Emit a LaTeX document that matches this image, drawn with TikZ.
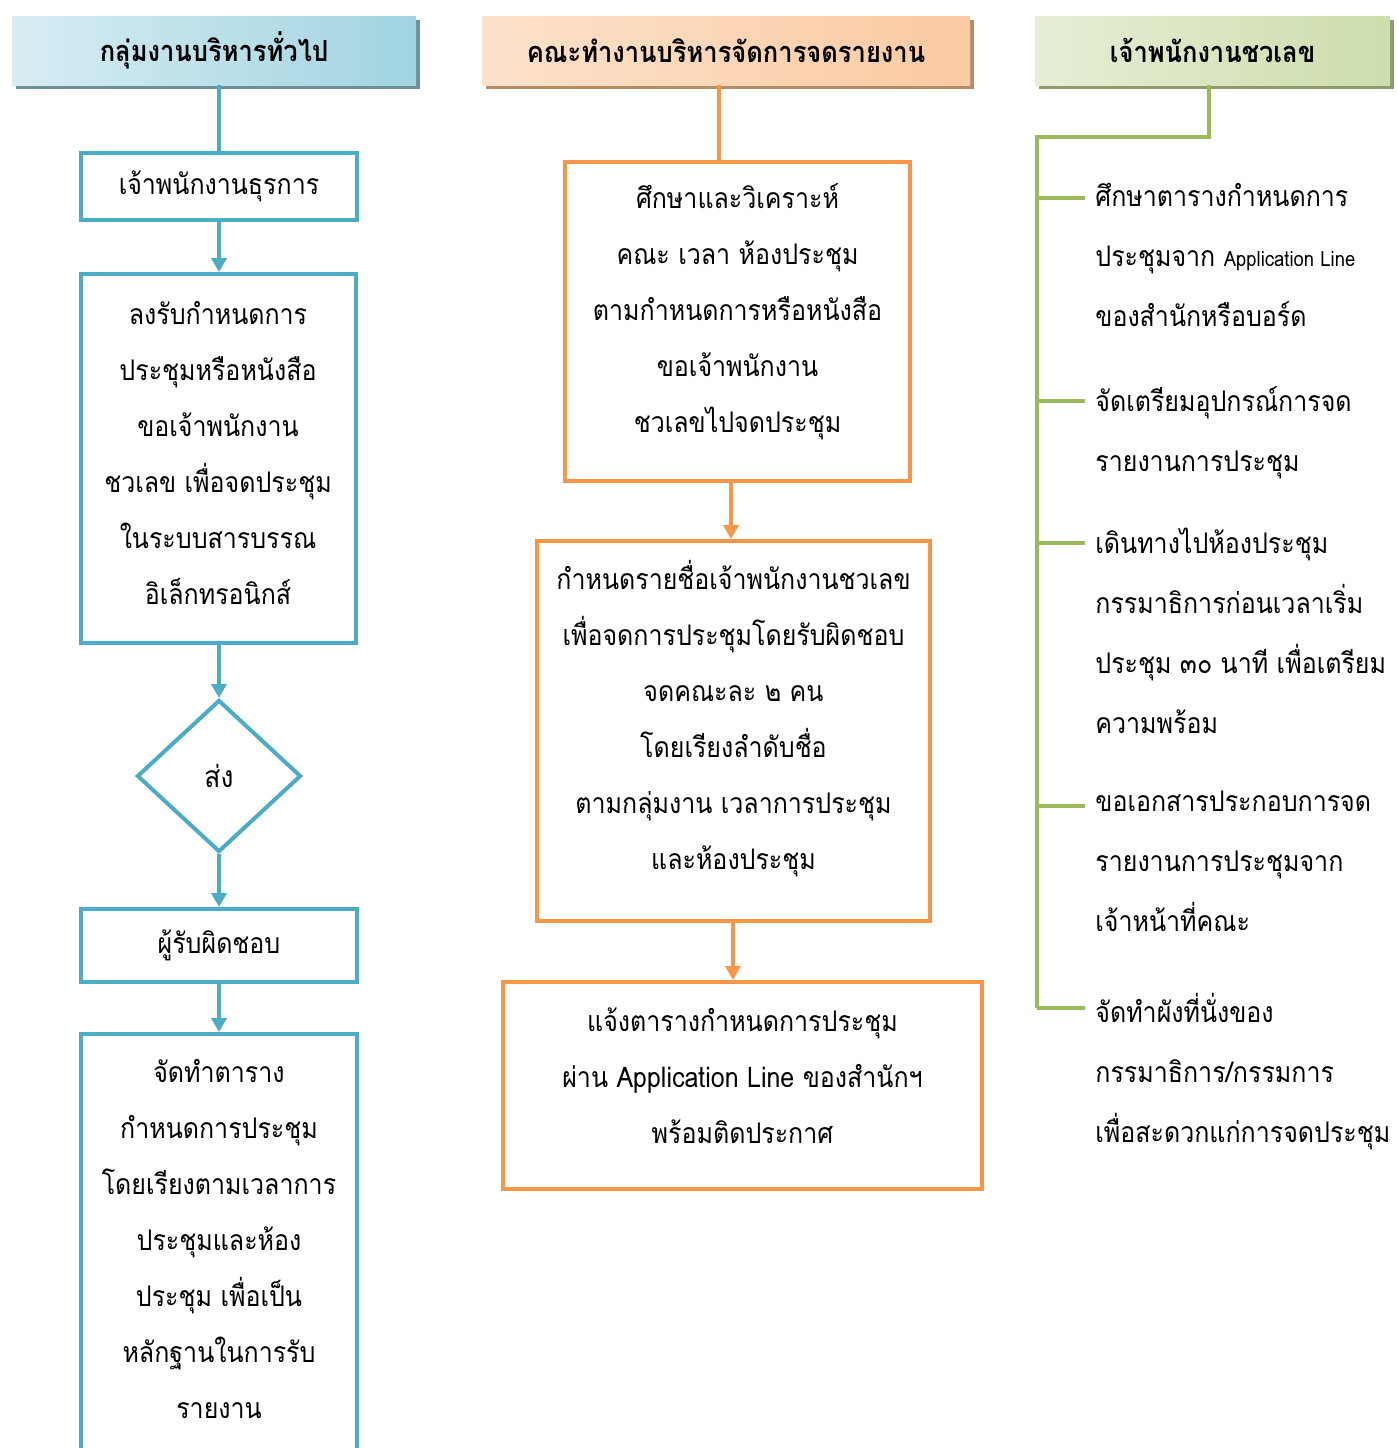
\documentclass[tikz,border=0pt]{standalone}
\usepackage{fontspec}
\setmainfont[Script=Thai, FakeStretch=0.88]{Loma}
\usetikzlibrary{arrows.meta,shapes.geometric,shadows}
\definecolor{cblue}{HTML}{4BACC6}
\definecolor{corange}{HTML}{F79646}
\definecolor{cgreen}{HTML}{9BBB59}
\tikzset{
  box/.style={draw, line width=2pt, fill=white, align=center, inner sep=0pt, font=\fontsize{14.2}{28}\selectfont},
  bbox/.style={box, draw=cblue},
  obox/.style={box, draw=corange},
  btext/.style={align=center, inner sep=0pt, font=\fontsize{14.2}{28}\selectfont},
  hdr/.style={minimum height=34.5pt, inner sep=0pt, font=\bfseries\fontsize{14.5}{20}\selectfont},
  bline/.style={line width=2pt, draw=cblue},
  oline/.style={line width=2pt, draw=corange},
  gline/.style={line width=2pt, draw=cgreen},
  barr/.style={bline, -{Triangle[width=7.5pt,length=7pt]}, color=cblue},
  oarr/.style={oline, -{Triangle[width=7.5pt,length=7pt]}, color=corange},
  item/.style={anchor=north west, align=left, inner sep=0pt, font=\fontsize{14.2}{30}\selectfont},
}
\begin{document}
\begin{tikzpicture}[x=0.5pt,y=-0.5pt]
\useasboundingbox (0,0) rectangle (1397,1448);
\clip (0,0) rectangle (1397,1448);
\fill[white] (0,0) rectangle (1397,1448);

% headers
\node[hdr, minimum width=202pt, left color=cblue!22, right color=cblue!52,
  drop shadow={shadow xshift=2pt, shadow yshift=-2pt, fill=cblue!35!gray, opacity=1}]
  (h1) at (214,50.5) {กลุ่มงานบริหารทั่วไป};
\node[hdr, minimum width=244pt, left color=corange!28, right color=corange!50,
  drop shadow={shadow xshift=2pt, shadow yshift=-2pt, fill=corange!45!gray, opacity=1}]
  (h2) at (726,50.5) {คณะทำงานบริหารจัดการจดรายงาน};
\node[hdr, minimum width=177.5pt, left color=cgreen!25, right color=cgreen!50,
  drop shadow={shadow xshift=2pt, shadow yshift=-2pt, fill=cgreen!45!gray, opacity=1}]
  (h3) at (1212.5,50.5) {เจ้าพนักงานชวเลข};

% left column
\node[bbox, minimum width=138pt, minimum height=33.5pt] (b1) at (219,186.5) {เจ้าพนักงานธุรการ};
\node[bbox, minimum width=137.5pt, minimum height=184.5pt] (b2) at (218,458.5) {};
\node[btext] (t2) at (218,453)
  {ลงรับกำหนดการ\\ประชุมหรือหนังสือ\\ขอเจ้าพนักงาน\\ชวเลข เพื่อจดประชุม\\ในระบบสารบรรณ\\อิเล็กทรอนิกส์};
\node[bbox, diamond, minimum width=82pt, minimum height=76pt, font=\fontsize{15}{28}\selectfont] (d1) at (219,776) {ส่ง};
\node[bbox, minimum width=138pt, minimum height=36.5pt] (b3) at (219,945.5) {ผู้รับผิดชอบ};
\node[bbox, minimum width=138pt, minimum height=218pt] (b4) at (219,1252) {};
\node[btext] (t4) at (219,1239)
  {จัดทำตาราง\\กำหนดการประชุม\\โดยเรียงตามเวลาการ\\ประชุมและห้อง\\ประชุม เพื่อเป็น\\หลักฐานในการรับ\\รายงาน};

\coordinate (lx) at (219,0);
\draw[bline] (h1.south -| lx) -- (b1.north -| lx);
\draw[barr] (b1.south -| lx) -- (b2.north -| lx);
\draw[barr] (b2.south -| lx) -- (d1.north);
\draw[barr] (d1.south) -- (b3.north);
\draw[barr] (b3.south) -- (b4.north);

% middle column
\node[obox, minimum width=172.5pt, minimum height=159.5pt] (b5) at (737.5,321.5) {};
\node[btext] (t5) at (737.5,312)
  {ศึกษาและวิเคราะห์\\คณะ เวลา ห้องประชุม\\ตามกำหนดการหรือหนังสือ\\ขอเจ้าพนักงาน\\ชวเลขไปจดประชุม};
\node[obox, minimum width=196.5pt, minimum height=190pt] (b6) at (733.5,731) {};
\node[btext] (t6) at (733.5,719)
  {กำหนดรายชื่อเจ้าพนักงานชวเลข\\เพื่อจดการประชุมโดยรับผิดชอบ\\จดคณะละ ๒ คน\\โดยเรียงลำดับชื่อ\\ตามกลุ่มงาน เวลาการประชุม\\และห้องประชุม};
\node[obox, minimum width=239.5pt, minimum height=103.5pt] (b7) at (742.5,1085.5) {};
\node[btext] (t7) at (742.5,1076)
  {แจ้งตารางกำหนดการประชุม\\ผ่าน Application Line ของสำนักฯ\\พร้อมติดประกาศ};

\coordinate (m1) at (719,0);
\coordinate (m2) at (731,0);
\coordinate (m3) at (733,0);
\draw[oline] (h2.south -| m1) -- (b5.north -| m1);
\draw[oarr] (b5.south -| m2) -- (b6.north -| m2);
\draw[oarr] (b6.south -| m3) -- (b7.north -| m3);

% right column
\coordinate (g0) at (1209,137);
\coordinate (g1) at (1037,137);
\coordinate (gb) at (1037,1008);
\draw[gline] (h3.south -| g0) -- (g0) -- (g1) -- (gb);
\foreach \yy/\nm in {198/k1,401/k2,543/k3,806/k4,1008/k5}{
  \coordinate (\nm a) at (1037,\yy);
  \coordinate (\nm b) at (1085,\yy);
  \draw[gline] (\nm a) -- (\nm b);
}
\node[item] (i1) at (1095,183) {ศึกษาตารางกำหนดการ\\ประชุมจาก {\fontsize{10.5}{30}\selectfont Application Line}\\ของสำนักหรือบอร์ด};
\node[item] (i2) at (1095,386) {จัดเตรียมอุปกรณ์การจด\\รายงานการประชุม};
\node[item] (i3) at (1095,528) {เดินทางไปห้องประชุม\\กรรมาธิการก่อนเวลาเริ่ม\\ประชุม ๓๐ นาที เพื่อเตรียม\\ความพร้อม};
\node[item] (i4) at (1095,791) {ขอเอกสารประกอบการจด\\รายงานการประชุมจาก\\เจ้าหน้าที่คณะ};
\node[item] (i5) at (1095,993) {จัดทำผังที่นั่งของ\\กรรมาธิการ/กรรมการ\\เพื่อสะดวกแก่การจดประชุม};
\end{tikzpicture}
\end{document}
